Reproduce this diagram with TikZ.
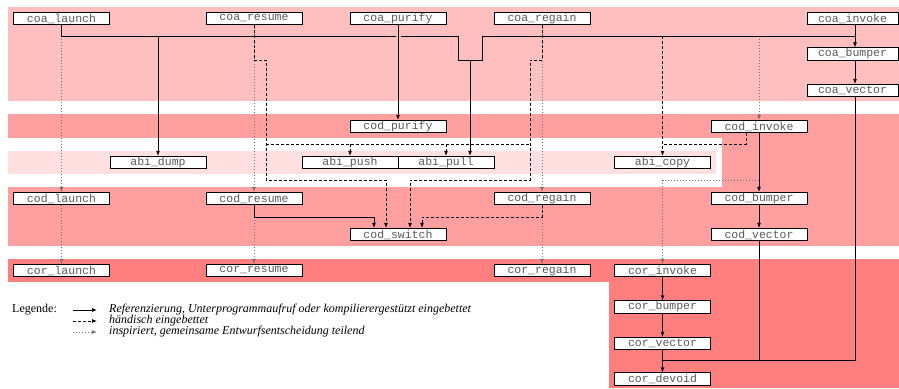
\documentclass[tikz,border=0pt]{standalone}
\usepackage{fontspec}
\setmainfont{Liberation Serif}
\newfontfamily\monof{Liberation Mono}
\usetikzlibrary{arrows.meta}
\definecolor{bandA}{HTML}{FFBFBF}
\definecolor{bandB}{HTML}{FF9F9F}
\definecolor{bandC}{HTML}{FFDFDF}
\definecolor{bandD}{HTML}{FF7F7F}
\begin{document}
\begin{tikzpicture}[x=1pt,y=-1pt,
  box/.style={draw=black,fill=white,line width=0.8pt,minimum width=96pt,minimum height=12.5pt,inner sep=0pt,font=\monof\fontsize{11.5}{12}\selectfont,text=black!65},
  boxn/.style={box,minimum width=91pt},
  sline/.style={line width=0.8pt,draw=black},
  dline/.style={line width=0.8pt,draw=black,dash pattern=on 3pt off 2pt},
  tline/.style={line width=0.7pt,draw=black!55,dash pattern=on 1pt off 2pt},
  arr/.style={-{Latex[length=5pt,width=4pt]}},
  legtext/.style={anchor=west,inner sep=0pt,font=\fontsize{12}{12}\selectfont},
]
\useasboundingbox (0,0) rectangle (899,388);
% bands
\fill[bandA] (8,7) rectangle (899,101);
\fill[bandB] (8,114) rectangle (899,138);
\fill[bandB] (722,138) rectangle (899,187);
\fill[bandB] (8,187) rectangle (899,246);
\fill[bandC] (8,151) rectangle (716,174);
\fill[bandD] (8,259) rectangle (899,282);
\fill[bandD] (609,282) rectangle (899,388);
% nodes
\node[box] (coalaunch) at (61.5,18.5) {coa\_launch};
\node[box] (coaresume) at (254,18.5) {coa\_resume};
\node[box] (coapurify) at (398,18.5) {coa\_purify};
\node[box] (coaregain) at (542,18.5) {coa\_regain};
\node[boxn] (coainvoke) at (852.5,18.5) {coa\_invoke};
\node[boxn] (coabumper) at (852.5,54) {coa\_bumper};
\node[boxn] (coavector) at (852.5,90.5) {coa\_vector};
\node[box] (codpurify) at (398,126.5) {cod\_purify};
\node[box] (codinvoke) at (759,126.5) {cod\_invoke};
\node[box] (abidump) at (158,162.5) {abi\_dump};
\node[box] (abipush) at (350,162.5) {abi\_push};
\node[box] (abipull) at (446,162.5) {abi\_pull};
\node[box] (abicopy) at (662.5,162.5) {abi\_copy};
\node[box] (codlaunch) at (61.5,198.5) {cod\_launch};
\node[box] (codresume) at (254,198.5) {cod\_resume};
\node[box] (codregain) at (542,198.5) {cod\_regain};
\node[box] (codbumper) at (759,198.5) {cod\_bumper};
\node[box] (codswitch) at (398,234.5) {cod\_switch};
\node[box] (codvector) at (759,234.5) {cod\_vector};
\node[box] (corlaunch) at (61.5,270.5) {cor\_launch};
\node[box] (corresume) at (254,270.5) {cor\_resume};
\node[box] (corregain) at (542,270.5) {cor\_regain};
\node[box] (corinvoke) at (662.5,270.5) {cor\_invoke};
\node[box] (corbumper) at (662.5,307) {cor\_bumper};
\node[box] (corvector) at (662.5,343.5) {cor\_vector};
\node[box] (cordevoid) at (662.5,379) {cor\_devoid};
% helper coordinates
\coordinate (bA) at (61.5,36);
\coordinate (gapL) at (395.5,36);
\coordinate (gapR) at (400.5,36);
\coordinate (n1) at (458,36);
\coordinate (n2) at (458,60);
\coordinate (n3) at (482,60);
\coordinate (n4) at (482,36);
\coordinate (nM) at (470,60);
\coordinate (bD) at (158,36);
\coordinate (bE) at (855,36);
\coordinate (vR) at (855,360.5);
\coordinate (vM) at (759,360.5);
\coordinate (vL) at (662.5,360.5);
\coordinate (r1) at (254,217);
\coordinate (r2) at (374,217);
\coordinate (d1) at (254,60);
\coordinate (d2) at (266,60);
\coordinate (d3) at (266,180);
\coordinate (d4) at (386,180);
\coordinate (d5) at (266,144);
\coordinate (d6) at (530,144);
\coordinate (d7) at (542,60);
\coordinate (d8) at (530,60);
\coordinate (d9) at (530,180);
\coordinate (d10) at (410,180);
\coordinate (e1) at (542,217);
\coordinate (e2) at (422,217);
\coordinate (c1) at (662.5,36);
\coordinate (c2) at (746,144);
\coordinate (c3) at (662.5,144);
\coordinate (i1) at (759,36);
\coordinate (i2) at (759,180);
\coordinate (i3) at (662.5,180);
% dotted
\draw[tline,arr] (bA) -- (codlaunch.north);
\draw[tline,arr] (codlaunch.south) -- (corlaunch.north);
\draw[tline,arr] (coaresume.south) -- (codresume.north);
\draw[tline,arr] (codresume.south) -- (corresume.north);
\draw[tline,arr] (coaregain.south) -- (codregain.north);
\draw[tline,arr] (codregain.south) -- (corregain.north);
\draw[tline,arr] (i1) -- (codinvoke.north);
\draw[tline,arr] (i2) -- (i3) -- (corinvoke.north);
% solid
\draw[sline] (coalaunch.south) -- (bA) -- (gapL);
\draw[sline] (gapR) -- (n1) -- (n2) -- (n3) -- (n4) -- (bE);
\draw[sline,arr] (coainvoke.south -| bE) -- (coabumper.north -| bE);
\draw[sline,arr] (coabumper.south -| bE) -- (coavector.north -| bE);
\draw[sline,arr] (bD) -- (abidump.north);
\draw[sline,arr] (nM) -- (abipull.north -| nM);
\draw[sline,arr] (coapurify.south) -- (codpurify.north);
\draw[sline] (coavector.south -| bE) -- (vR) -- (vL);
\draw[sline] (codvector.south) -- (vM);
\draw[sline,arr] (corvector.south) -- (cordevoid.north);
\draw[sline,arr] (codinvoke.south) -- (codbumper.north);
\draw[sline,arr] (codbumper.south) -- (codvector.north);
\draw[sline,arr] (corinvoke.south) -- (corbumper.north);
\draw[sline,arr] (corbumper.south) -- (corvector.north);
\draw[sline,arr] (codresume.south) -- (r1) -- (r2) -- (codswitch.north -| r2);
% dashed
\draw[dline,arr] (coaresume.south) -- (d1) -- (d2) -- (d3) -- (d4) -- (codswitch.north -| d4);
\draw[dline] (d5) -- (d6);
\draw[dline,arr] (abipush.north |- d5) -- (abipush.north);
\draw[dline,arr] (abipull.north |- d5) -- (abipull.north);
\draw[dline,arr] (coaregain.south) -- (d7) -- (d8) -- (d9) -- (d10) -- (codswitch.north -| d10);
\draw[dline,arr] (codregain.south) -- (e1) -- (e2) -- (codswitch.north -| e2);
\draw[dline,arr] (c1) -- (abicopy.north);
\draw[dline] (codinvoke.south -| c2) -- (c2) -- (c3);
% legend
\node[legtext] (leg) at (12,310) {Legende:};
\coordinate (la1) at (73,310);
\coordinate (lb1) at (97,310);
\coordinate (la2) at (73,321);
\coordinate (lb2) at (97,321);
\coordinate (la3) at (73,332);
\coordinate (lb3) at (97,332);
\draw[sline,arr] (la1) -- (lb1);
\draw[dline,arr] (la2) -- (lb2);
\draw[tline,arr] (la3) -- (lb3);
\node[legtext,font=\fontsize{12}{12}\selectfont\itshape] (lt1) at (109,310) {Referenzierung, Unterprogrammaufruf oder kompilierergestützt eingebettet};
\node[legtext,font=\fontsize{12}{12}\selectfont\itshape] (lt2) at (109,321) {händisch eingebettet};
\node[legtext,font=\fontsize{12}{12}\selectfont\itshape] (lt3) at (109,332) {inspiriert, gemeinsame Entwurfsentscheidung teilend};
\end{tikzpicture}
\end{document}
